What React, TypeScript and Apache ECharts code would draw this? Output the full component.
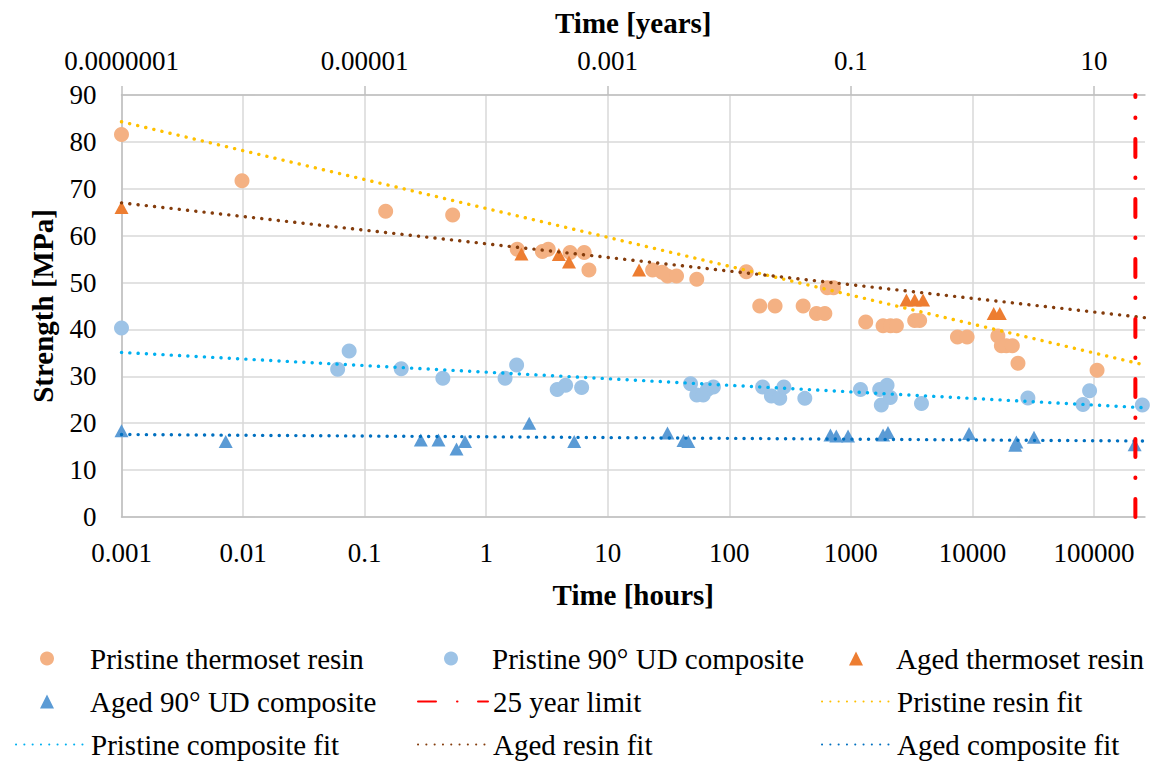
import React, { useEffect, useRef } from 'react';
import * as echarts from 'echarts';

const FONT = '"Liberation Serif", "Times New Roman", serif';

// Axis ticks
const hourTicks = [0.001, 0.01, 0.1, 1, 10, 100, 1000, 10000, 100000];
const hourTickLabels = ['0.001', '0.01', '0.1', '1', '10', '100', '1000', '10000', '100000'];
const yearTicks = [1e-7, 1e-5, 1e-3, 0.1, 10];
const yearTickLabels = ['0.0000001', '0.00001', '0.001', '0.1', '10'];
const hoursMin = 0.001;
const hoursMax = 262800;
const yearsMin = 1e-7;
const strengthTicks = [0, 10, 20, 30, 40, 50, 60, 70, 80, 90];

// Pristine thermoset resin
const prHours = [0.001, 0.0098, 0.149, 0.53, 1.8, 2.9, 3.24, 4.9, 6.4, 7.0, 23.4, 28, 31, 36.8, 54, 138, 178, 238, 405, 521, 611, 640, 720, 1325, 1840, 2120, 2370, 3350, 3680, 7530, 9040, 16200, 17300, 19000, 21300, 23700, 106000];
const prStrength = [81.6, 71.7, 65.2, 64.4, 57.1, 56.6, 57.1, 56.4, 56.4, 52.7, 52.7, 52.2, 51.4, 51.4, 50.7, 52.3, 45.0, 45.0, 45.0, 43.4, 43.4, 48.9, 48.9, 41.6, 40.8, 40.8, 40.8, 41.9, 41.9, 38.4, 38.4, 38.6, 36.5, 36.5, 36.5, 32.8, 31.3];

// Pristine 90° UD composite
const pcHours = [0.001, 0.06, 0.0746, 0.2, 0.44, 1.43, 1.78, 3.84, 4.5, 6.1, 48, 54, 61, 66, 74, 188, 222, 260, 281, 418, 1200, 1727, 1780, 1985, 2110, 3810, 28600, 81200, 92000, 250000];
const pcStrength = [40.3, 31.5, 35.4, 31.6, 29.6, 29.6, 32.4, 27.2, 28.1, 27.6, 28.4, 26.0, 26.0, 27.2, 27.7, 27.7, 25.8, 25.3, 27.7, 25.3, 27.2, 27.2, 23.9, 28.1, 25.5, 24.2, 25.4, 24.0, 26.9, 23.9];

// Aged thermoset resin
const arHours = [0.001, 1.95, 3.96, 4.8, 18.1, 2865, 3350, 3925, 14960, 16800];
const arStrength = [66.0, 56.1, 56.0, 54.4, 52.7, 46.3, 46.3, 46.3, 43.4, 43.4];

// Aged 90° UD composite
const acHours = [0.001, 0.0072, 0.29, 0.405, 0.57, 0.67, 2.26, 5.3, 31, 42, 46, 679, 759, 948, 1840, 2020, 9380, 22500, 23000, 32100, 216000];
const acStrength = [18.4, 16.1, 16.4, 16.4, 14.5, 16.1, 20.0, 16.1, 17.9, 16.3, 16.1, 17.5, 17.3, 17.3, 17.5, 18.0, 17.8, 15.3, 16.0, 17.0, 15.4];

// 25 year limit
const limitHours = [219000, 219000];
const limitStrength = [0, 90];

// Fit lines (end points)
const fitHours = [0.001, 262800];
const pristineResinFit = [84.3, 32.4];
const agedResinFit = [67.0, 42.5];
const pristineCompositeFit = [35.1, 23.3];
const agedCompositeFit = [17.6, 16.2];

const zip = (xs: number[], ys: number[]) => xs.map((x, i) => [x, ys[i]]);

const labelFor = (ticks: number[], labels: string[]) => (v: number) => {
  const i = ticks.findIndex((t) => Math.abs(Math.log10(t) - Math.log10(v)) < 1e-6);
  return i >= 0 ? labels[i] : '';
};

const AXIS_GRAY = '#bfbfbf';
const GRID_GRAY = '#d9d9d9';

export default function App() {
  const ref = useRef<HTMLDivElement>(null);
  useEffect(() => {
    if (!ref.current) return;
    const chart = echarts.init(ref.current, null, { renderer: 'svg' });

    const markerLegend = (name: string, cx: number, textX: number, top: number) => ({
      data: [name],
      left: cx - 7,
      top,
      padding: 0,
      itemWidth: 14,
      itemHeight: 14,
      selectedMode: false,
      textStyle: { fontFamily: FONT, fontSize: 29, color: '#000', padding: [0, 0, 0, textX - (cx - 7 + 14 + 5)] },
    });
    const lineLegend = (name: string, textX: number, top: number) => ({
      data: [name],
      left: textX - 75,
      top,
      padding: 0,
      itemWidth: 70,
      itemHeight: 14,
      selectedMode: false,
      itemStyle: { color: 'rgba(0,0,0,0)', borderColor: 'rgba(0,0,0,0)', borderWidth: 0 },
      textStyle: { fontFamily: FONT, fontSize: 29, color: '#000' },
    });
    const r1 = 644, r2 = 687, r3 = 730;

    const dotted = (color: string) => ({ color, width: 3.4, type: [0.1, 8.2], cap: 'round' });

    chart.setOption({
      animation: false,
      backgroundColor: '#fff',
      textStyle: { fontFamily: FONT },
      grid: { left: 121.5, right: 6, top: 95, bottom: 245, containLabel: false },
      legend: [
        markerLegend('Pristine thermoset resin', 47, 90, r1),
        markerLegend('Pristine 90° UD composite', 451, 492, r1),
        markerLegend('Aged thermoset resin', 856, 896, r1),
        markerLegend('Aged 90° UD composite', 47, 90, r2),
        lineLegend('25 year limit', 492, r2),
        lineLegend('Pristine resin fit', 896, r2),
        lineLegend('Pristine composite fit', 90, r3),
        lineLegend('Aged resin fit', 492, r3),
        lineLegend('Aged composite fit', 896, r3),
      ],
      xAxis: [
        {
          type: 'log',
          position: 'bottom',
          min: hoursMin,
          max: hoursMax,
          name: 'Time [hours]',
          nameLocation: 'middle',
          nameGap: 63,
          nameTextStyle: { fontFamily: FONT, fontSize: 29, fontWeight: 'bold', color: '#000' },
          axisLine: { show: true, lineStyle: { color: AXIS_GRAY, width: 1.5 } },
          axisTick: { show: false, customValues: hourTicks },
          axisLabel: {
            customValues: hourTicks,
            formatter: labelFor(hourTicks, hourTickLabels),
            fontFamily: FONT,
            fontSize: 27,
            color: '#000',
            margin: 22,
          },
          splitLine: { show: true, lineStyle: { color: GRID_GRAY, width: 1.5 } },
          minorTick: { show: false },
        },
        {
          type: 'log',
          position: 'top',
          min: yearsMin,
          max: (yearsMin * hoursMax) / hoursMin,
          name: 'Time [years]',
          nameLocation: 'middle',
          nameGap: 58,
          nameTextStyle: { fontFamily: FONT, fontSize: 29, fontWeight: 'bold', color: '#000' },
          axisLine: { show: true, lineStyle: { color: AXIS_GRAY, width: 1.5 } },
          axisTick: { show: true, inside: false, length: 9, customValues: yearTicks, lineStyle: { color: AXIS_GRAY, width: 1.5 } },
          axisLabel: {
            customValues: yearTicks,
            formatter: labelFor(yearTicks, yearTickLabels),
            fontFamily: FONT,
            fontSize: 27,
            color: '#000',
            margin: 21,
          },
          splitLine: { show: false },
        },
      ],
      yAxis: {
        type: 'value',
        min: strengthTicks[0],
        max: strengthTicks[strengthTicks.length - 1],
        interval: 10,
        name: 'Strength [MPa]',
        nameLocation: 'middle',
        nameGap: 64,
        nameTextStyle: { fontFamily: FONT, fontSize: 29, fontWeight: 'bold', color: '#000' },
        axisLine: { show: true, lineStyle: { color: AXIS_GRAY, width: 1.5 } },
        axisTick: { show: false },
        axisLabel: { fontFamily: FONT, fontSize: 27, color: '#000', margin: 25 },
        splitLine: { show: true, lineStyle: { color: GRID_GRAY, width: 1.5 } },
      },
      series: [
        {
          name: 'Pristine thermoset resin',
          type: 'scatter',
          symbol: 'circle',
          symbolSize: 15,
          itemStyle: { color: '#F4B183', opacity: 1 },
          data: zip(prHours, prStrength),
          z: 2,
        },
        {
          name: 'Pristine 90° UD composite',
          type: 'scatter',
          symbol: 'circle',
          symbolSize: 15,
          itemStyle: { color: '#9DC3E6', opacity: 1 },
          data: zip(pcHours, pcStrength),
          z: 2,
        },
        {
          name: 'Aged thermoset resin',
          type: 'scatter',
          symbol: 'triangle',
          symbolSize: [14, 13],
          itemStyle: { color: '#ED7D31', opacity: 1 },
          data: zip(arHours, arStrength),
          z: 2,
        },
        {
          name: 'Aged 90° UD composite',
          type: 'scatter',
          symbol: 'triangle',
          symbolSize: [14, 13],
          itemStyle: { color: '#5B9BD5', opacity: 1 },
          data: zip(acHours, acStrength),
          z: 2,
        },
        {
          name: '25 year limit',
          type: 'line',
          symbol: 'none',
          data: zip(limitHours, limitStrength),
          lineStyle: { color: '#FF0000', width: 4, type: [18, 21, 0.5, 20.5], cap: 'round' },
          itemStyle: { color: '#FF0000' },
          z: 4,
        },
        {
          name: 'Pristine resin fit',
          type: 'line',
          symbol: 'none',
          data: zip(fitHours, pristineResinFit),
          lineStyle: dotted('#FFC000'),
          itemStyle: { color: '#FFC000' },
          z: 3,
        },
        {
          name: 'Pristine composite fit',
          type: 'line',
          symbol: 'none',
          data: zip(fitHours, pristineCompositeFit),
          lineStyle: dotted('#00B0F0'),
          itemStyle: { color: '#00B0F0' },
          z: 3,
        },
        {
          name: 'Aged resin fit',
          type: 'line',
          symbol: 'none',
          data: zip(fitHours, agedResinFit),
          lineStyle: dotted('#843C0C'),
          itemStyle: { color: '#843C0C' },
          z: 3,
        },
        {
          name: 'Aged composite fit',
          type: 'line',
          symbol: 'none',
          data: zip(fitHours, agedCompositeFit),
          lineStyle: dotted('#0070C0'),
          itemStyle: { color: '#0070C0' },
          z: 3,
        },
      ],
    });
    return () => chart.dispose();
  }, []);

  return (
    <div
      ref={ref}
      style={{ position: 'absolute', left: 0, top: 0, width: 1151, height: 762, background: '#fff' }}
    />
  );
}
